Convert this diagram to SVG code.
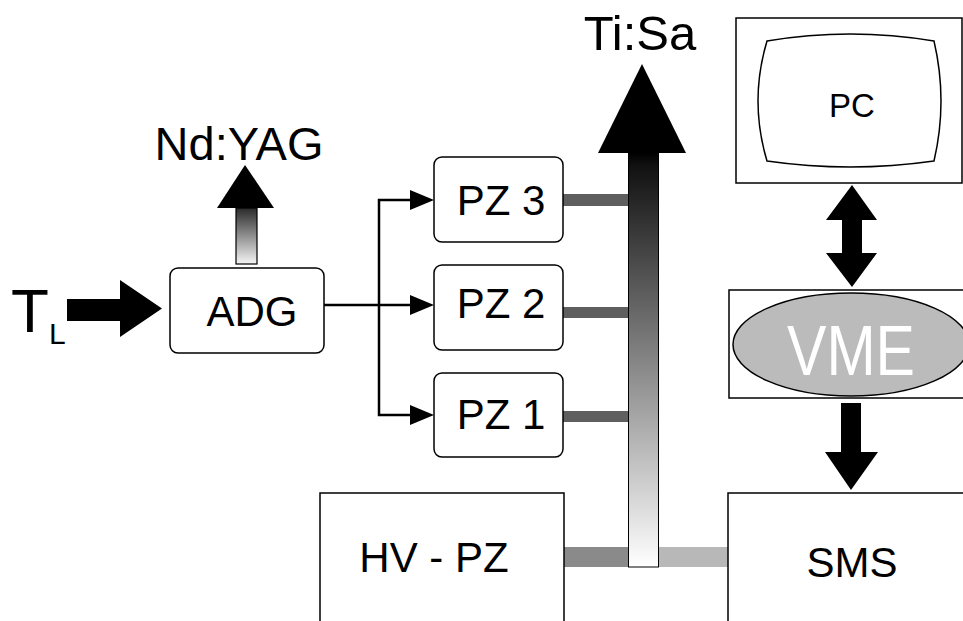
<svg xmlns="http://www.w3.org/2000/svg" width="963" height="621" viewBox="0 0 963 621">
<defs>
<style>
text{font-family:"Liberation Sans",Arial,sans-serif;fill:#000}
.box{fill:#fff;stroke:#000;stroke-width:1.5}
.line{fill:none;stroke:#000;stroke-width:2.5}
.head{fill:#000}
</style>
<linearGradient id="gMain" x1="0" y1="0" x2="0" y2="1">
<stop offset="0" stop-color="#000"/>
<stop offset="0.03" stop-color="#111"/>
<stop offset="1" stop-color="#fff"/>
</linearGradient>
<linearGradient id="gYag" x1="0" y1="0" x2="0" y2="1">
<stop offset="0" stop-color="#2a2a2a"/>
<stop offset="1" stop-color="#f5f5f5"/>
</linearGradient>
</defs>
<rect width="963" height="621" fill="#fff"/>

<g id="connectors">
<polyline class="line" points="324,305 410,305"/>
<polyline class="line" points="410,200 379,200 379,415 410,415"/>
<polygon class="head" points="410,190 434,200 410,210"/>
<polygon class="head" points="410,295 434,305 410,315"/>
<polygon class="head" points="410,405 434,415 410,425"/>
<rect x="563" y="194" width="66" height="12" fill="#5f5f5f"/>
<rect x="563" y="307" width="66" height="11" fill="#5f5f5f"/>
<rect x="563" y="411" width="66" height="11" fill="#5f5f5f"/>
<rect x="564" y="547" width="65" height="20" fill="#8a8a8a"/>
<rect x="658" y="547" width="70" height="20" fill="#b8b8b8"/>
<rect x="628.5" y="153" width="30" height="414" fill="url(#gMain)" stroke="#000" stroke-width="1"/>
<polygon class="head" points="598,153 686,153 642,64"/>
<rect x="236" y="208" width="21" height="56" fill="url(#gYag)" stroke="#000" stroke-width="1.2"/>
<polygon class="head" points="217,208 274,208 245,165"/>
<polygon class="head" points="67,299 120,299 120,280 162,308.5 120,337 120,321 67,321"/>
<polygon class="head" points="852,185 877,220 862,220 862,253 877,253 852,287 826,253 842,253 842,220 826,220"/>
<polygon class="head" points="841,403 861,403 861,452 878,452 851,490 825,452 841,452"/>
</g>

<g id="TL">
<text x="11" y="332" font-size="62">T</text>
<text x="49" y="344" font-size="30">L</text>
</g>

<g id="ndyag">
<text x="239" y="160" font-size="47" text-anchor="middle">Nd:YAG</text>
</g>

<g id="tisa">
<text x="640" y="50" font-size="49" text-anchor="middle">Ti:Sa</text>
</g>

<g id="ADG">
<rect class="box" x="170" y="268" width="154" height="85" rx="8"/>
<text x="252" y="326" font-size="42" text-anchor="middle">ADG</text>
</g>

<g id="PZ3">
<rect class="box" x="434" y="157" width="129" height="85" rx="8"/>
<text x="501" y="215" font-size="42" text-anchor="middle">PZ 3</text>
</g>
<g id="PZ2">
<rect class="box" x="434" y="265" width="129" height="85" rx="8"/>
<text x="501" y="318" font-size="42" text-anchor="middle">PZ 2</text>
</g>
<g id="PZ1">
<rect class="box" x="434" y="373" width="129" height="84" rx="8"/>
<text x="501" y="429" font-size="42" text-anchor="middle">PZ 1</text>
</g>

<g id="HVPZ">
<rect class="box" x="320" y="493" width="244" height="140"/>
<text x="434" y="572" font-size="42" text-anchor="middle">HV - PZ</text>
</g>

<g id="SMS">
<rect class="box" x="728" y="493" width="250" height="140"/>
<text x="852" y="577" font-size="42" text-anchor="middle">SMS</text>
</g>

<g id="PC">
<rect class="box" x="736" y="18" width="226" height="165"/>
<path d="M767,41 Q850,27 934,41 Q948,101 934,161 Q850,173 767,161 Q749,101 767,41 Z" fill="#fff" stroke="#000" stroke-width="1.5"/>
<text x="852" y="117" font-size="33" text-anchor="middle">PC</text>
</g>

<g id="VME">
<rect class="box" x="729" y="290" width="250" height="108"/>
<ellipse cx="851" cy="344.5" rx="118" ry="51.5" fill="#bbb" stroke="#000" stroke-width="1.5"/>
<text x="851" y="375" font-size="70" text-anchor="middle" textLength="128" lengthAdjust="spacingAndGlyphs" style="fill:#fff">VME</text>
</g>
</svg>
